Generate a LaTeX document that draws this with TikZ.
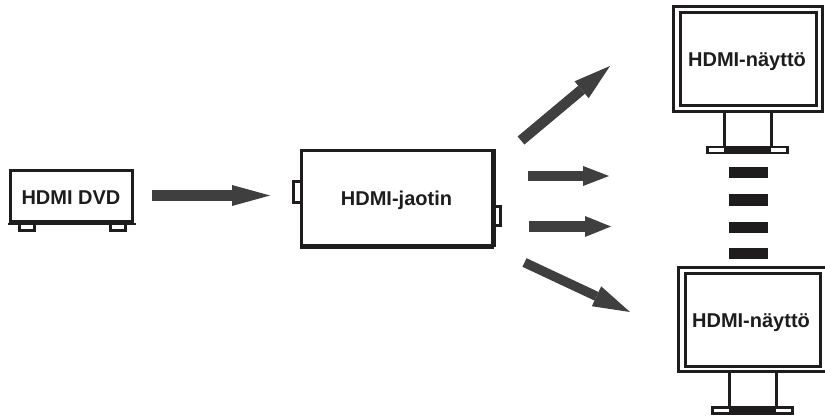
\documentclass[tikz,border=0pt]{standalone}
\usepackage{fontspec}
\setmainfont{Liberation Sans}
\usetikzlibrary{arrows.meta}
\definecolor{ink}{HTML}{1E1C1D}
\definecolor{arrowgrey}{HTML}{3F3F40}
\tikzset{
  x=1pt,y=-1pt,
  lbl/.style={font=\fontsize{20}{22}\selectfont\bfseries,text=ink},
  frame/.style={draw=ink,line width=#1,inner sep=0pt,fill=white},
  frame/.default=3pt,
  thick line/.style={draw=ink,line width=3pt},
  blockarrow/.style n args={3}{draw=arrowgrey,line width=#1,
     -{Triangle[length=#2,width=#3,line width=0pt,fill=arrowgrey]}},
}
\begin{document}
\begin{tikzpicture}
\useasboundingbox (0,0) rectangle (825,417);
% DVD player
\draw[thick line,fill=white] (19.5,223) rectangle (34.5,230);
\draw[thick line,fill=white] (110.5,223) rectangle (125.5,230);
\node[frame=3pt,minimum width=122pt,minimum height=50pt] (dvd) at (71.5,196) {};
\node[lbl] (dvdlabel) at (71,198) {HDMI DVD};
\fill[ink] ([xshift=-1.5pt]dvd.south west) rectangle ([xshift=1.5pt,yshift=-2pt]dvd.south east);
% splitter
\draw[thick line,fill=white] (293.5,182) rectangle (301,202);
\draw[thick line,fill=white] (493,206) rectangle (500.5,225);
\node[frame=3pt,minimum width=191pt,minimum height=95pt] (split) at (396.5,198) {};
\node[lbl] (splitlabel) at (396.5,200.5) {HDMI-jaotin};
\draw[ink,line width=4pt] (split.north east) -- (split.south east);
\draw[ink,line width=4.5pt] (split.south west) -- (split.south east);
% monitor 1
\draw[thick line] (724,110) -- (724,147);
\draw[thick line] (771,110) -- (771,147);
\node[frame=2.5pt,minimum width=80pt,minimum height=6pt] (baseA) at (747.5,150) {};
\fill[ink] (724,146) rectangle (771,154);
\node[frame=3pt,minimum width=149pt,minimum height=105pt] (monA) at (748,59) {};
\node[frame=3pt,minimum width=136pt,minimum height=93pt] (scrA) at (748,59.5) {};
\node[lbl] (monAlabel) at (747,62) {HDMI-näyttö};
% separators
\fill[ink] (729,167) rectangle (768,178);
\fill[ink] (729,194) rectangle (768,206);
\fill[ink] (729,222) rectangle (768,233);
\fill[ink] (729,248) rectangle (768,259);
% monitor 2
\draw[thick line] (729,370) -- (729,408);
\draw[thick line] (776,370) -- (776,408);
\node[frame=2.5pt,minimum width=80pt,minimum height=6pt] (baseB) at (752.5,410.5) {};
\fill[ink] (729,407) rectangle (776,414);
\node[frame=3pt,minimum width=150pt,minimum height=104pt] (monB) at (753,319.5) {};
\node[frame=3pt,minimum width=135pt,minimum height=93pt] (scrB) at (752.5,319.5) {};
\node[lbl] (monBlabel) at (751,323) {HDMI-näyttö};
% arrows
\coordinate (a1s) at (152,195.5); \coordinate (a1e) at (270,195.5);
\coordinate (a2s) at (521,140.5); \coordinate (a2e) at (610,66);
\coordinate (a3s) at (528,176);   \coordinate (a3e) at (609,176);
\coordinate (a4s) at (529,226.5); \coordinate (a4e) at (611,226.5);
\coordinate (a5s) at (524.5,262.5); \coordinate (a5e) at (630,312);
\draw[blockarrow={11pt}{38pt}{21pt}] (a1s) -- (a1e);
\draw[blockarrow={10.5pt}{37pt}{22pt}] (a2s) -- (a2e);
\draw[blockarrow={10pt}{26pt}{20pt}] (a3s) -- (a3e);
\draw[blockarrow={10.5pt}{26pt}{21pt}] (a4s) -- (a4e);
\draw[blockarrow={9.5pt}{37pt}{22pt}] (a5s) -- (a5e);
\end{tikzpicture}
\end{document}
